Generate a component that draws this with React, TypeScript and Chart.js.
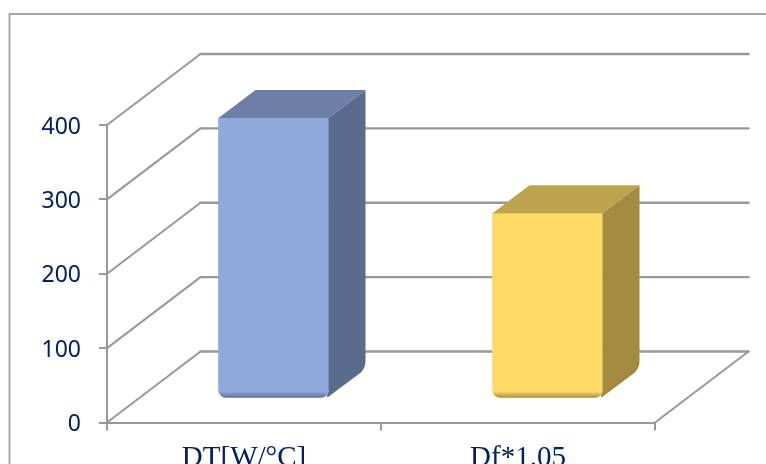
import { useEffect, useRef } from "react";
import { Chart, registerables } from "chart.js";

Chart.register(...registerables);

const categories = ["DT[W/°C]", "Df*1.05"];
const seriesValues = [377, 249];
const frontColors = ["#8EA9DB", "#FFD966"];
const edgeColors = ["#58688F", "#9B8339"];
const topColors = ["#6C7FA6", "#BFA44E"];
const sideColors = ["#5B6B8E", "#A38B41"];
const yMin = 0;
const yMax = 400;
const yStep = 100;

const INK = "#002060";
const GRID = "#989898";
// Receding direction of the floor and walls, and of the bars' own depth.
const WALL_DX = 93.5;
const WALL_DY = -71;
const BAR_DX = 37;
const BAR_DY = -28;
// Bars stand part-way into the floor rather than on the front edge.
const BAR_SHIFT_X = 29.5;
const BAR_SHIFT_Y = -24;

const perspective = {
  id: "perspective",
  beforeDraw(chart: any) {
    const { ctx } = chart;
    ctx.save();
    ctx.strokeStyle = "#A6A6A6";
    ctx.lineWidth = 2;
    ctx.strokeRect(9.5, 14, 800, 500);
    ctx.restore();
  },
  beforeDatasetsDraw(chart: any) {
    const { ctx, scales } = chart;
    const { left, right } = chart.chartArea;
    const y = scales.y;
    ctx.save();
    ctx.strokeStyle = GRID;
    ctx.lineCap = "round";
    y.ticks.forEach((tick: any) => {
      const py = y.getPixelForValue(tick.value);
      ctx.lineWidth = 2;
      ctx.beginPath();
      ctx.moveTo(left, py);
      ctx.lineTo(left + WALL_DX, py + WALL_DY);
      ctx.stroke();
      ctx.lineWidth = 2.4;
      ctx.beginPath();
      ctx.moveTo(left + WALL_DX, py + WALL_DY);
      ctx.lineTo(right + WALL_DX, py + WALL_DY);
      ctx.stroke();
    });
    const floor = y.getPixelForValue(yMin);
    ctx.lineWidth = 2;
    ctx.beginPath();
    ctx.moveTo(right, floor);
    ctx.lineTo(right + WALL_DX, floor + WALL_DY);
    ctx.stroke();
    ctx.restore();

    ctx.save();
    ctx.translate(BAR_SHIFT_X, BAR_SHIFT_Y);
  },
  afterDatasetsDraw(chart: any) {
    const { ctx } = chart;
    chart.getDatasetMeta(0).data.forEach((bar: any, i: number) => {
      const { x, y, base, width } = bar.getProps(["x", "y", "base", "width"], true);
      const l = x - width / 2;
      const r = x + width / 2;

      ctx.fillStyle = topColors[i];
      ctx.beginPath();
      ctx.moveTo(l, y);
      ctx.lineTo(l + BAR_DX, y + BAR_DY);
      ctx.lineTo(r + BAR_DX, y + BAR_DY);
      ctx.lineTo(r, y);
      ctx.closePath();
      ctx.fill();

      ctx.fillStyle = sideColors[i];
      ctx.beginPath();
      ctx.moveTo(r, y);
      ctx.lineTo(r + BAR_DX, y + BAR_DY);
      ctx.lineTo(r + BAR_DX, base + BAR_DY - 9);
      ctx.quadraticCurveTo(r + BAR_DX, base + BAR_DY - 3, r + BAR_DX - 5, base + BAR_DY + 3);
      ctx.lineTo(r - 2, base);
      ctx.lineTo(r, base - 6);
      ctx.closePath();
      ctx.fill();

      // Darker lip along the bottom edge of the side face.
      ctx.strokeStyle = edgeColors[i];
      ctx.globalAlpha = 0.7;
      ctx.lineWidth = 2;
      ctx.beginPath();
      ctx.moveTo(r + BAR_DX - 1, base + BAR_DY - 6);
      ctx.quadraticCurveTo(r + BAR_DX - 1.5, base + BAR_DY - 2, r + BAR_DX - 5, base + BAR_DY + 2);
      ctx.lineTo(r - 1, base - 1);
      ctx.stroke();
      ctx.globalAlpha = 1;
    });
    ctx.restore();
  },
};

export default function App() {
  const ref = useRef<HTMLCanvasElement>(null);

  useEffect(() => {
    const chart = new Chart(ref.current as HTMLCanvasElement, {
      type: "bar",
      data: {
        labels: categories,
        datasets: [
          {
            data: seriesValues,
            barThickness: 110,
            clip: false,
            borderWidth: 0,
            borderSkipped: false,
            borderRadius: { topLeft: 0, topRight: 0, bottomLeft: 8, bottomRight: 8 },
            backgroundColor: (c: any) => {
              const i = c.dataIndex ?? 0;
              const zero = c.chart.scales.y?.getPixelForValue(yMin);
              if (!Number.isFinite(zero)) return frontColors[i];
              const g = c.chart.ctx.createLinearGradient(0, zero - 7, 0, zero);
              g.addColorStop(0, frontColors[i]);
              g.addColorStop(1, edgeColors[i]);
              return g;
            },
          } as any,
        ],
      },
      options: {
        responsive: false,
        animation: false,
        layout: { padding: { top: 125, right: 111, left: 0, bottom: 0 } },
        plugins: { legend: { display: false }, tooltip: { enabled: false } },
        scales: {
          x: {
            afterFit: (s: any) => {
              s.height = 41.5;
            },
            grid: {
              drawOnChartArea: false,
              color: GRID,
              lineWidth: 2,
              tickLength: 8,
            },
            border: { color: GRID, width: 2 },
            ticks: {
              color: INK,
              autoSkip: false,
              maxRotation: 0,
              padding: 10,
              font: { family: "'Liberation Serif'", size: 29 },
            },
          },
          y: {
            min: yMin,
            max: yMax,
            afterFit: (s: any) => {
              s.width = 107;
            },
            grid: {
              drawOnChartArea: false,
              color: GRID,
              lineWidth: 2,
              tickLength: 8,
            },
            border: { color: GRID, width: 2 },
            ticks: {
              color: INK,
              stepSize: yStep,
              padding: 18,
              labelOffset: 2,
              font: { family: "'Noto Sans'", size: 23 },
            },
          },
        },
      },
      plugins: [perspective],
    });
    return () => chart.destroy();
  }, []);

  return (
    <canvas
      ref={ref}
      width={766}
      height={464}
      style={{ position: "fixed", left: 0, top: 0, display: "block", background: "#fff" }}
    />
  );
}
